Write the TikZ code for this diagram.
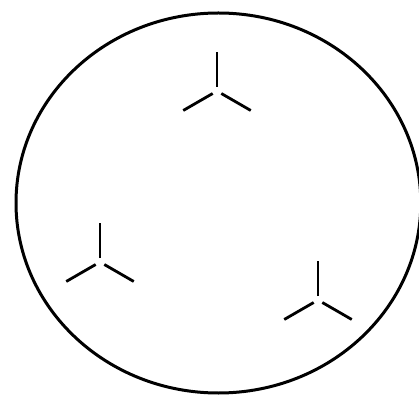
\documentclass[tikz,border=0pt]{standalone}
\usepackage{tikz}
\usetikzlibrary{calc}
\tikzset{
  outline/.style={draw, line width=3pt, black},
  armline/.style={line width=2.8pt, black},
  tristar/.pic={
    \draw[armline] (90:4pt) -- (90:39pt);
    \draw[armline] (210:5pt) -- (210:39pt);
    \draw[armline] (330:5pt) -- (330:39pt);
  }
}
\begin{document}
\begin{tikzpicture}[x=1pt, y=1pt]
  \useasboundingbox (0,0) rectangle (419,396);
  % container
  \coordinate (centre) at (218.4,193);
  \draw[outline] (centre) ellipse [x radius=202.4, y radius=190];
  % the three symbols
  \coordinate (top) at (217,305);
  \coordinate (left) at (100,134);
  \coordinate (right) at (318,96);
  \pic at (top) {tristar};
  \pic at (left) {tristar};
  \pic at (right) {tristar};
\end{tikzpicture}
\end{document}
